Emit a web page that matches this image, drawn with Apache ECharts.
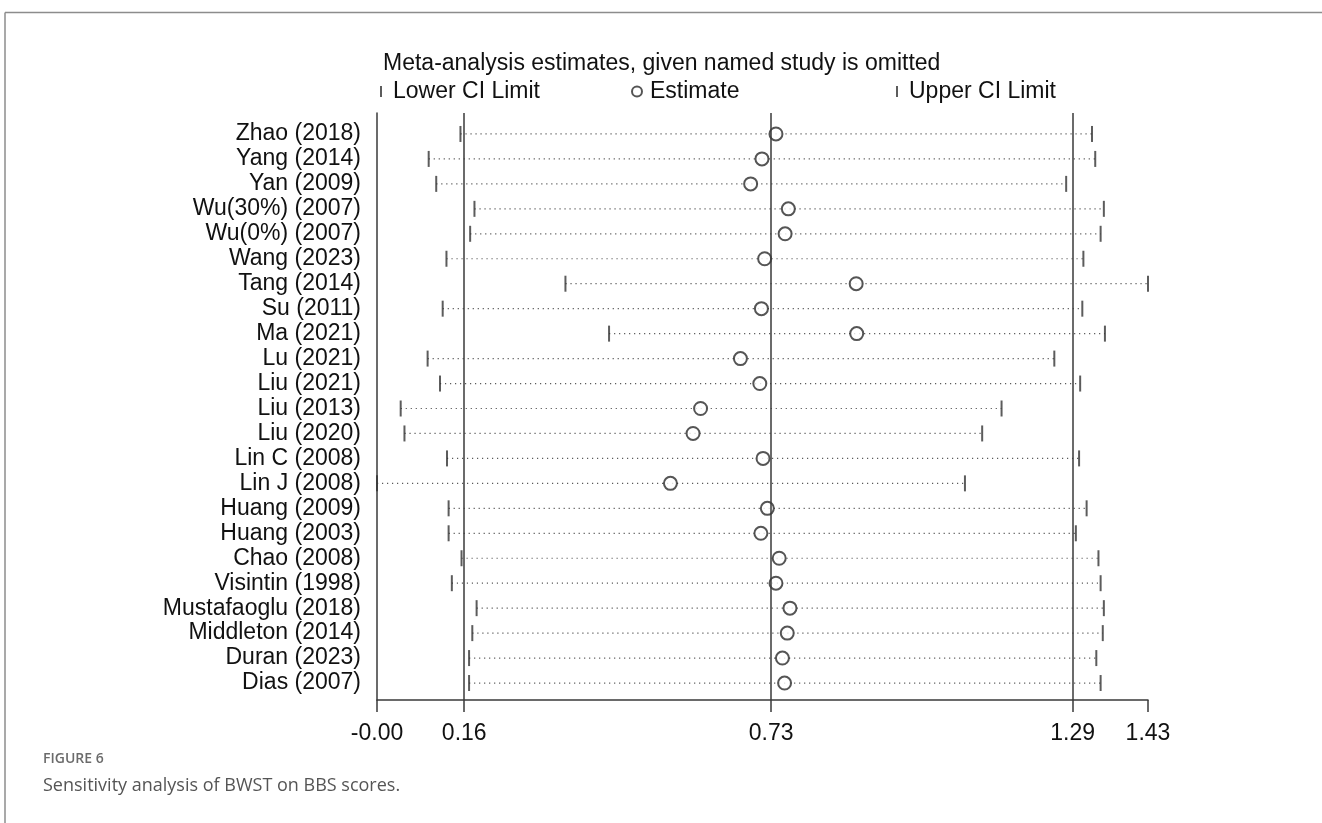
<!DOCTYPE html>
<html>
<head>
<meta charset="utf-8">
<script src="https://cdn.jsdelivr.net/npm/echarts@6/dist/echarts.min.js"></script>
<style>
  html, body { margin: 0; padding: 0; background: #fff; }
  #chart { width: 1322px; height: 823px; }
</style>
</head>
<body>
<div id="chart"></div>
<script>
// Leave-one-out sensitivity analysis: pooled SMD when each named study is omitted
const studies = [
  'Zhao (2018)', 'Yang (2014)', 'Yan (2009)', 'Wu(30%) (2007)', 'Wu(0%) (2007)',
  'Wang (2023)', 'Tang (2014)', 'Su (2011)', 'Ma (2021)', 'Lu (2021)',
  'Liu (2021)', 'Liu (2013)', 'Liu (2020)', 'Lin C (2008)', 'Lin J (2008)',
  'Huang (2009)', 'Huang (2003)', 'Chao (2008)', 'Visintin (1998)',
  'Mustafaoglu (2018)', 'Middleton (2014)', 'Duran (2023)', 'Dias (2007)'
];
const lowerCI = [
  0.153, 0.094, 0.108, 0.179, 0.171,
  0.127, 0.348, 0.120, 0.429, 0.092,
  0.115, 0.042, 0.049, 0.128, -0.002,
  0.131, 0.131, 0.155, 0.137,
  0.183, 0.175, 0.169, 0.169
];
const estimates = [
  0.739, 0.713, 0.692, 0.762, 0.756,
  0.718, 0.888, 0.712, 0.889, 0.673,
  0.709, 0.599, 0.585, 0.715, 0.543,
  0.723, 0.711, 0.745, 0.739,
  0.765, 0.760, 0.751, 0.755
];
const upperCI = [
  1.326, 1.332, 1.278, 1.348, 1.342,
  1.310, 1.430, 1.308, 1.350, 1.256,
  1.304, 1.158, 1.122, 1.302, 1.090,
  1.316, 1.296, 1.338, 1.342,
  1.348, 1.346, 1.334, 1.342
];
// Pooled result with all studies: lower limit, estimate, upper limit
const overallCI = [0.16, 0.73, 1.29];

const xMin = Math.min(...lowerCI);
const xMax = Math.max(...upperCI);
const tickValues = [xMin, ...overallCI, xMax];

const FONT = "'Liberation Sans', Arial, sans-serif";
const INK = '#111';
const LINE = '#3a3a3a';

const chart = echarts.init(document.getElementById('chart'), null, { renderer: 'canvas' });

chart.setOption({
  animation: false,
  backgroundColor: '#fff',
  title: [
    {
      text: 'Meta-analysis estimates, given named study is omitted',
      left: 383, top: 52, padding: 0,
      textStyle: { fontFamily: FONT, fontSize: 23, fontWeight: 'normal', color: INK }
    },
    {
      text: 'FIGURE 6',
      left: 43, top: 752, padding: 0,
      textStyle: { fontFamily: "'Open Sans', sans-serif", fontSize: 14, fontWeight: 600, color: '#6b6b6b' }
    },
    {
      text: 'Sensitivity analysis of BWST on BBS scores.',
      left: 43, top: 777, padding: 0,
      textStyle: { fontFamily: "'Open Sans', sans-serif", fontSize: 18, fontWeight: 'normal', color: '#555' }
    }
  ],
  legend: [
    {
      data: ['Lower CI Limit'], left: 380, top: 80, padding: 0,
      icon: 'rect', itemWidth: 2, itemHeight: 11,
      textStyle: { fontFamily: FONT, fontSize: 23, color: INK, padding: [0, 0, 0, 6] }
    },
    {
      data: ['Estimate'], left: 631, top: 80, padding: 0,
      icon: 'emptyCircle', itemWidth: 10, itemHeight: 10,
      textStyle: { fontFamily: FONT, fontSize: 23, color: INK, padding: [0, 0, 0, 3] }
    },
    {
      data: ['Upper CI Limit'], left: 896, top: 80, padding: 0,
      icon: 'rect', itemWidth: 2, itemHeight: 11,
      textStyle: { fontFamily: FONT, fontSize: 23, color: INK, padding: [0, 0, 0, 6] }
    }
  ],
  grid: { left: 377, right: 174, top: 113, bottom: 123, containLabel: false },
  xAxis: {
    type: 'value',
    min: xMin,
    max: xMax,
    splitLine: { show: false },
    axisLine: { show: true, onZero: false, lineStyle: { color: LINE, width: 1.5 } },
    axisTick: { show: true, customValues: tickValues, length: 12, lineStyle: { color: LINE, width: 1.5 } },
    axisLabel: {
      customValues: tickValues,
      formatter: v => v.toFixed(2),
      fontFamily: FONT, fontSize: 23, color: INK, margin: 22
    }
  },
  yAxis: {
    type: 'value',
    inverse: true,
    min: -0.84,
    max: 22.68,
    splitLine: { show: false },
    axisTick: { show: false },
    axisLine: { show: true, onZero: false, lineStyle: { color: LINE, width: 1.5 } },
    axisLabel: {
      customValues: studies.map((_, i) => i),
      formatter: v => studies[Math.round(v)],
      fontFamily: FONT, fontSize: 23, color: INK, margin: 16
    }
  },
  series: [
    {
      // dotted span from lower to upper limit for each omitted-study row
      name: 'CI span',
      type: 'custom',
      silent: true,
      z: 1,
      encode: { x: [0, 1], y: 2 },
      data: studies.map((_, i) => [lowerCI[i], upperCI[i], i]),
      renderItem: (params, api) => {
        const a = api.coord([api.value(0), api.value(2)]);
        const b = api.coord([api.value(1), api.value(2)]);
        return {
          type: 'line',
          shape: { x1: a[0], y1: a[1], x2: b[0], y2: b[1] },
          style: { stroke: '#5a5a5a', lineWidth: 1.2, lineDash: [1.2, 3.8] }
        };
      },
      markLine: {
        silent: true,
        symbol: 'none',
        label: { show: false },
        lineStyle: { color: LINE, width: 1.5, type: 'solid' },
        data: overallCI.map(v => ({ xAxis: v }))
      }
    },
    {
      name: 'Lower CI Limit',
      type: 'scatter',
      z: 3,
      symbol: 'rect',
      symbolSize: [2, 16],
      itemStyle: { color: '#333' },
      data: lowerCI.map((v, i) => [v, i])
    },
    {
      name: 'Estimate',
      type: 'scatter',
      z: 4,
      symbol: 'emptyCircle',
      symbolSize: 13,
      itemStyle: { color: '#2a2a2a', borderColor: '#2a2a2a', borderWidth: 1.4 },
      data: estimates.map((v, i) => [v, i])
    },
    {
      name: 'Upper CI Limit',
      type: 'scatter',
      z: 3,
      symbol: 'rect',
      symbolSize: [2, 16],
      itemStyle: { color: '#333' },
      data: upperCI.map((v, i) => [v, i])
    }
  ],
  graphic: [
    // figure panel frame (top and left rule)
    { type: 'line', silent: true, shape: { x1: 5, y1: 12.5, x2: 1322, y2: 12.5 }, style: { stroke: '#8c8c8c', lineWidth: 1.5 } },
    { type: 'line', silent: true, shape: { x1: 5, y1: 12.5, x2: 5, y2: 823 }, style: { stroke: '#8c8c8c', lineWidth: 1.5 } }
  ]
});
</script>
</body>
</html>
